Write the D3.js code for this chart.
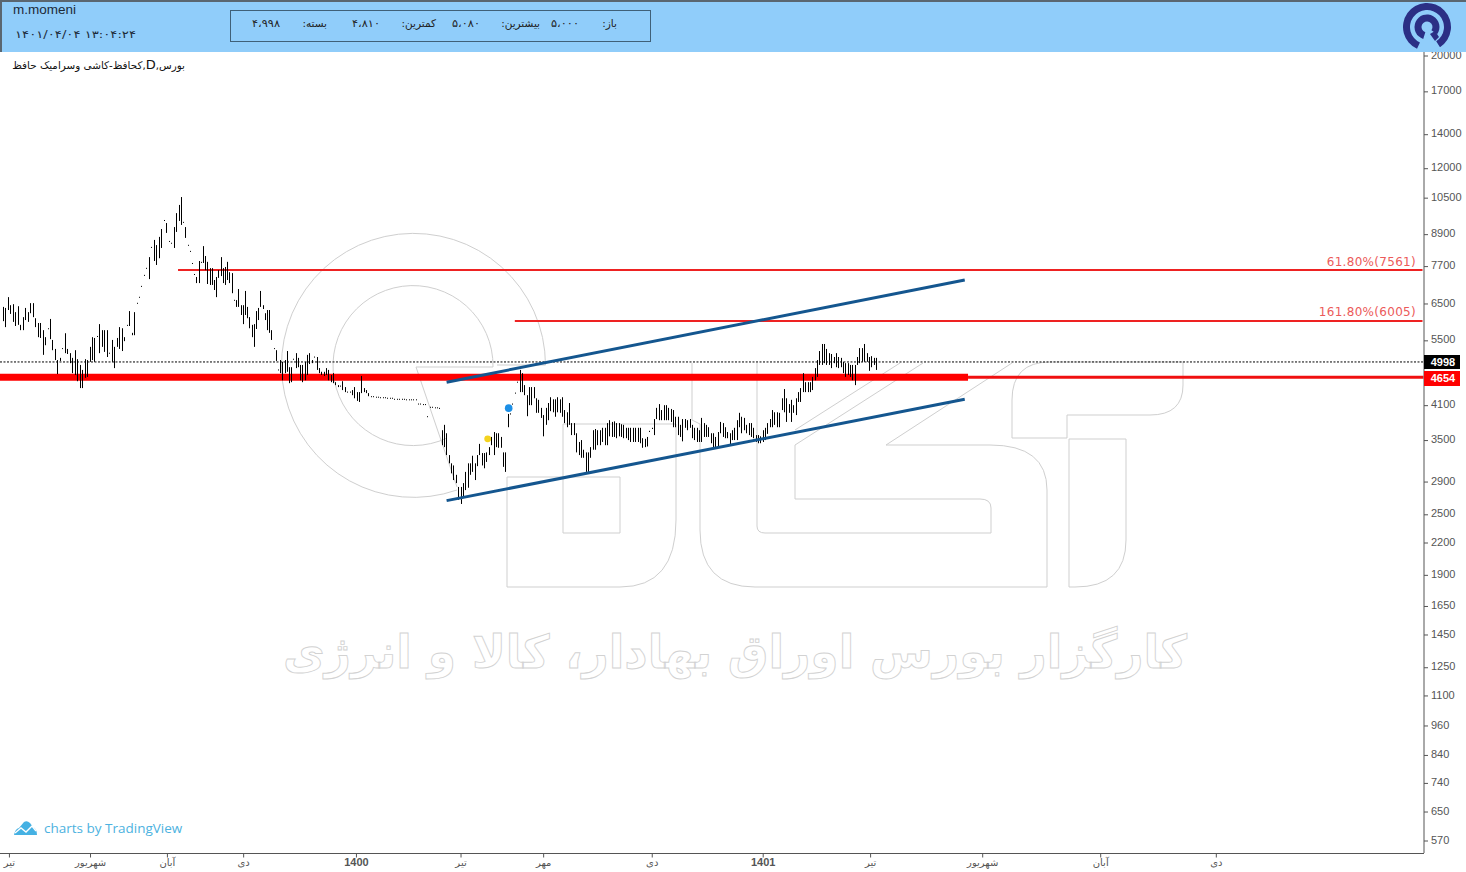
<!DOCTYPE html>
<html lang="fa">
<head>
<meta charset="utf-8">
<title>m.momeni</title>
<script src="https://cdn.jsdelivr.net/npm/d3@7"></script>
<style>
  html, body { margin: 0; padding: 0; background: #fff; overflow: hidden; }
  svg { display: block; }
  text { font-family: "Liberation Sans", "DejaVu Sans", sans-serif; }
</style>
</head>
<body>
<svg id="chart" width="1466" height="872"></svg>
<script>
// Daily highs of the symbol, oldest session first
const highs = [6400,6370,6690,6450,6480,6250,6420,5900,6110,6370,6250,6510,6510,6080,5950,5950,5760,5580,5810,6060,
5510,5290,5030,5080,5310,5680,5290,5190,5080,5260,5050,4920,4810,5050,5030,5340,5580,5560,5610,5920,
5760,5760,5760,5200,5510,5340,5560,5840,5810,5580,5900,6280,5690,6250,6520,6700,7040,7400,7640,8020,
8400,8670,8470,8790,9110,9490,9360,8630,8560,9190,9790,10160,10530,9410,9190,8480,8250,7810,7430,7330,
7880,7850,8430,8060,7850,7630,7630,7230,7330,7560,8020,7630,7670,7850,7490,7460,6610,6600,6940,6450,
6450,6880,6400,6110,5900,5920,6280,6370,6880,6450,6220,6310,6310,5760,5310,5260,4820,5030,4990,5030,
5240,4870,4870,5060,5190,5080,4920,4920,4990,5150,5190,5030,5110,5100,4850,4770,4770,4850,4810,4700,
4740,4550,4490,4480,4570,4450,4360,4360,4390,4450,4350,4350,4680,4430,4390,4330,4270,4270,4260,4260,
4250,4250,4250,4240,4240,4240,4220,4220,4220,4220,4220,4210,4210,4210,4210,4210,4130,4130,4120,4120,
3900,4070,4070,4060,4060,4050,3660,3750,3610,3270,3150,3120,2990,2830,2830,2880,3030,3150,3150,3260,
3150,3270,3440,3300,3300,3310,3390,3550,3630,3610,3610,3550,3310,3310,3940,3950,4130,4340,4560,4810,
4740,4490,4290,4450,4450,4450,4230,4200,4050,3920,4050,4140,4250,4210,4210,4250,4210,4250,4010,3970,
4140,3780,3780,3610,3470,3500,3350,3310,3310,3390,3660,3680,3660,3660,3700,3700,3780,3830,3800,3810,
3780,3780,3760,3750,3700,3700,3700,3700,3700,3700,3700,3530,3520,3550,3650,3700,3850,4050,4120,4010,
4100,4100,4050,4030,4010,3890,3890,3750,3850,3850,3830,3850,3750,3700,3700,3660,3870,3780,3750,3710,
3610,3610,3550,3630,3800,3780,3710,3630,3610,3660,3700,3830,3960,3890,3870,3750,3780,3780,3700,3580,
3580,3560,3660,3700,3780,3850,4010,3970,3970,3960,4230,4410,4230,4120,4200,4100,4230,4350,4430,4740,
4550,4550,4550,4660,4850,5030,5240,5410,5410,5290,5190,5170,5100,5190,5100,5080,4990,4960,4960,4920,
4920,4920,5100,5310,5310,5410,5190,5100,5120,5080,5080];

// Daily lows, same order as the highs
const lows = [6000,5840,6310,6200,5980,5870,5900,5760,5760,6030,5980,6220,6110,5840,5580,5560,5150,5380,5790,5530,
5260,5030,4720,5010,5290,5190,5170,4960,4740,4700,4570,4430,4430,4640,4660,4990,5030,4990,5590,5190,
5340,5220,5100,5180,4990,4850,5340,5290,5240,5480,5880,5870,5630,5630,6500,6680,7020,7380,7620,7260,
8380,7880,7740,7980,8360,9470,8950,8610,8540,8360,8990,9450,9280,9390,8750,8460,8230,7790,7410,7130,
7130,7830,7810,7560,7100,7070,7070,6910,6690,7300,7360,7130,7070,7230,7130,6810,6590,6400,6400,6170,
5920,6170,6080,5810,5580,5340,5790,6030,6400,6340,6030,5760,5690,5510,5290,5010,4800,4740,4590,4740,
4770,4530,4550,5040,4850,4870,4590,4550,4590,4700,4940,4960,5090,4810,4740,4700,4680,4700,4590,4550,
4530,4490,4450,4460,4390,4350,4340,4340,4290,4230,4180,4160,4330,4350,4330,4270,4260,4260,4250,4250,
4240,4240,4240,4230,4230,4230,4210,4210,4210,4210,4210,4200,4200,4200,4200,4200,4120,4120,4110,4110,
3890,4060,4060,4050,4050,4040,3420,3390,3270,3150,3010,2920,2880,2670,2620,2700,2790,2820,2990,3030,
2920,3110,3270,3120,3080,3170,3270,3420,3270,3390,3380,3380,3100,3030,3710,3930,4110,4320,4540,4350,
4350,4290,3900,4100,4100,4230,3960,3960,3870,3560,3750,3830,3990,3970,3890,3970,3960,3890,3780,3710,
3750,3580,3580,3310,3270,3230,3230,3030,3030,3230,3350,3350,3420,3420,3470,3420,3420,3560,3550,3550,
3530,3560,3550,3530,3530,3500,3470,3470,3470,3470,3450,3380,3390,3400,3630,3680,3580,3850,3830,3830,
3830,3830,3830,3800,3710,3710,3580,3550,3480,3700,3660,3700,3530,3500,3470,3470,3470,3550,3550,3550,
3450,3390,3390,3390,3610,3550,3530,3530,3420,3500,3500,3500,3710,3610,3660,3610,3580,3550,3530,3470,
3450,3450,3470,3500,3600,3710,3710,3750,3710,3710,4010,3970,3800,3960,3800,3960,3920,4160,4160,4350,
4350,4350,4350,4390,4590,4660,4920,4920,4960,4920,4920,4850,4960,4870,4850,4870,4740,4660,4700,4660,
4590,4490,4920,4960,4990,4990,4990,4790,4870,4920,4810];

// Price axis ticks and the levels marked on the chart
const priceTicks = [20000,17000,14000,12000,10500,8900,7700,6500,5500,4100,3500,2900,2500,2200,1900,1650,1450,1250,1100,960,840,740,650,570];
const lastClose = 4998;
const supportLevel = 4654;
const fibUpperLevel = 7561;
const fibLowerLevel = 6005;
const fibLabels = ["61.80%(7561)", "161.80%(6005)"];

// Calendar ticks, given as session numbers along the time axis
const timeTickSessions = [2.4,35.2,66.3,100.2,149.7,194,229,275,322,367.5,415,465,514];
const timeTickLabels = ["تیر","شهریور","آبان","دی","1400","تیر","مهر","دی","1401","تیر","شهریور","آبان","دی"];

// Channel and level anchors as session number and price
const channelSessions = [188.1, 407.6];
const channelUpper = [4550, 7230];
const channelLower = [2660, 4210];
const fibStartSessions = [70.8, 217];
const supportEndSession = 409;
const markerSessions = [214.4, 205.5];
const markerPrices = [4045, 3520];

// Quote strip
const quoteLabels = ["باز:", "بیشترین:", "کمترین:", "بسته:"];
const quoteValues = ["۵،۰۰۰", "۵،۰۸۰", "۴،۸۱۰", "۴،۹۹۸"];
const titleParts = ["بورس,", "D", ",کحافظ-کاشی وسرامیک حافظ"];
const brokerText = "کارگزار بورس اوراق بهادار، کالا و انرژی";

const svg = d3.select("#chart");
const plotRight = 1423.5, axisBottom = 853;

// Session spacing varies a little across the history, so the scale has several segments
const x = d3.scaleLinear().domain([0, 72, 126, 370, 602]).range([3, 181, 300, 876, plotRight]);
const y = d3.scaleLog().domain([570, 20000]).range([840.5, 55.5]);

// Watermark: ring emblem, large letterforms and the broker name
const wm = svg.append("g").attr("fill", "none").attr("stroke", "#cfcfcf").attr("stroke-width", 1);
wm.append("path").attr("d", "M457,490 A132,132 0 1 1 545.5,365 L497,365");
wm.append("path").attr("d", "M447,438 A80,80 0 1 1 493,367 L416,367 L457,487");
wm.append("path").attr("d", "M507,477 H620 V533 H563 V424 H676 V520 Q676,587 620,587 H507 Z");
wm.append("path").attr("d", "M692,363 V420 L700,424 V530 Q700,587 755,587 H1047 V490 Q1047,445 990,445 H886 L1012,363");
wm.append("path").attr("d", "M757,363 V526 Q757,533 765,533 H991 V508 Q991,499 980,499 H795 V445 L923,363");
wm.append("path").attr("d", "M795,430 L900,363");
wm.append("path").attr("d", "M1012,438 V400 Q1012,362 1050,362 H1183 V385 Q1183,415 1150,415 H1067 V438 Z");
wm.append("path").attr("d", "M1069,439 H1126 V540 Q1126,587 1075,587 H1069 Z");
wm.append("text")
  .attr("x", 735).attr("y", 668)
  .attr("text-anchor", "middle")
  .attr("textLength", 904).attr("lengthAdjust", "spacingAndGlyphs")
  .attr("direction", "rtl")
  .style("font-family", "'DejaVu Sans'").style("font-size", "46px").style("font-weight", "bold")
  .attr("fill", "#fff").attr("stroke", "#d2d2d2").attr("stroke-width", 0.9)
  .text(brokerText);

// Levels that sit behind the price bars
svg.append("line")
  .attr("x1", 0).attr("x2", plotRight)
  .attr("y1", y(lastClose) + 0.5).attr("y2", y(lastClose) + 0.5)
  .attr("stroke", "#000").attr("stroke-dasharray", "2,1.5").attr("stroke-width", 1);

svg.append("line")
  .attr("x1", 0).attr("x2", x(supportEndSession))
  .attr("y1", y(supportLevel)).attr("y2", y(supportLevel))
  .attr("stroke", "#ff0000").attr("stroke-width", 7);
svg.append("line")
  .attr("x1", x(supportEndSession)).attr("x2", plotRight)
  .attr("y1", y(supportLevel)).attr("y2", y(supportLevel))
  .attr("stroke", "#f01010").attr("stroke-width", 3);

[fibUpperLevel, fibLowerLevel].forEach((level, i) => {
  svg.append("line")
    .attr("x1", x(fibStartSessions[i])).attr("x2", plotRight - 1)
    .attr("y1", y(level)).attr("y2", y(level))
    .attr("stroke", "#ee2222").attr("stroke-width", 2);
  svg.append("text")
    .attr("x", 1416).attr("y", y(level) - 4.5)
    .attr("text-anchor", "end")
    .attr("fill", "#ec5a5a")
    .style("font-family", "'DejaVu Sans'").style("font-size", "12px").style("letter-spacing", "0.3px")
    .text(fibLabels[i]);
});

// Price bars
svg.append("g").selectAll("rect")
  .data(d3.range(highs.length))
  .join("rect")
  .attr("x", i => Math.round(x(i)))
  .attr("width", 1)
  .attr("y", i => y(highs[i]))
  .attr("height", i => Math.max(1, y(lows[i]) - y(highs[i])))
  .attr("fill", "#000");

// Rising channel
const channelLine = d3.line().x((d, i) => x(channelSessions[i])).y(d => y(d));
[channelUpper, channelLower].forEach(series => {
  svg.append("path")
    .attr("d", channelLine(series))
    .attr("fill", "none")
    .attr("stroke", "#14568f")
    .attr("stroke-width", 3);
});

// Signal markers
const markerColors = ["#1c8fe6", "#f4d31f"];
const markerSizes = [3.8, 3.4];
svg.append("g").selectAll("circle")
  .data(markerSessions)
  .join("circle")
  .attr("cx", d => x(d))
  .attr("cy", (d, i) => y(markerPrices[i]))
  .attr("r", (d, i) => markerSizes[i])
  .attr("fill", (d, i) => markerColors[i]);

// Price axis
const yAxis = svg.append("g")
  .attr("transform", `translate(${plotRight + 0.5},0)`)
  .call(d3.axisRight(y).tickValues(priceTicks).tickFormat(d3.format("d")).tickSize(4).tickPadding(3));
yAxis.select(".domain").attr("stroke", "#555").attr("d", `M0,52V${axisBottom}`);
yAxis.selectAll(".tick line").attr("stroke", "#555");
yAxis.selectAll("text").attr("fill", "#555").attr("dy", "0.24em").style("font-size", "11px").style("font-family", "'Liberation Sans'");

// Time axis
const xAxis = svg.append("g")
  .attr("transform", `translate(0,${axisBottom + 0.5})`)
  .call(d3.axisBottom(x).tickValues(timeTickSessions)
    .tickFormat((d, i) => timeTickLabels[i]).tickSize(4).tickPadding(1));
xAxis.select(".domain").attr("stroke", "#555").attr("d", `M0,0H${plotRight + 0.5}`);
xAxis.selectAll(".tick line").attr("stroke", "#555");
xAxis.selectAll("text")
  .attr("fill", "#555")
  .style("font-size", (d, i) => /^\d/.test(timeTickLabels[i]) ? "11px" : "10px")
  .style("font-weight", (d, i) => /^\d/.test(timeTickLabels[i]) ? "bold" : "normal");

// Value tags on the price axis
[[lastClose, "#000", 355, 14], [supportLevel, "#ff0000", 371, 15]].forEach(([value, colour, top, h]) => {
  svg.append("rect").attr("x", 1424).attr("y", top).attr("width", 36).attr("height", h).attr("fill", colour);
  svg.append("text")
    .attr("x", 1443).attr("y", top + h / 2 + 3.8)
    .attr("text-anchor", "middle").attr("fill", "#fff")
    .style("font-size", "11px").style("font-weight", "bold")
    .text(value);
});

// Header band with user, timestamp and quote strip
svg.append("rect").attr("x", 0).attr("y", 0).attr("width", 1466).attr("height", 52).attr("fill", "#90cdfa");
svg.append("path").attr("d", "M1,52V1H1466").attr("fill", "none").attr("stroke", "#5a6670").attr("stroke-width", 2);
svg.append("text").attr("x", 13).attr("y", 14).attr("fill", "#1c2a38").style("font-size", "13.5px").text("m.momeni");
svg.append("text").attr("x", 15).attr("y", 38)
  .attr("textLength", 121).attr("lengthAdjust", "spacingAndGlyphs")
  .attr("fill", "#1c2a38").style("font-family", "'DejaVu Sans'").style("font-size", "10.5px")
  .text("۱۴۰۱/۰۴/۰۴ ۱۳:۰۴:۲۴");
svg.append("rect").attr("x", 230.5).attr("y", 10.5).attr("width", 420).attr("height", 31)
  .attr("fill", "none").attr("stroke", "#3f6078");

const quoteText = (str, right, rtl) => {
  const t = svg.append("text")
    .attr("x", right).attr("y", 27)
    .attr("direction", rtl ? "rtl" : "ltr")
    .attr("text-anchor", rtl ? "start" : "end")
    .attr("fill", "#222")
    .style("font-family", "'DejaVu Sans'").style("font-size", "10.5px")
    .text(str);
  if (!rtl) t.attr("textLength", 28).attr("lengthAdjust", "spacingAndGlyphs");
};
[617, 540, 436, 327].forEach((r, i) => quoteText(quoteLabels[i], r, true));
[579, 480, 380, 280].forEach((r, i) => quoteText(quoteValues[i], r, false));

// Broker emblem
const emblem = svg.append("g").attr("transform", "translate(1427,27)").attr("fill", "#2b2f85");
const ring = d3.arc();
emblem.append("path").attr("d", ring({ innerRadius: 17, outerRadius: 24, startAngle: 3.57, endAngle: 2 * Math.PI + 2.57 }));
emblem.append("path").attr("d", ring({ innerRadius: 5.5, outerRadius: 12.5, startAngle: 3.45, endAngle: 2 * Math.PI + 2.2 }));
emblem.append("path").attr("d", "M3,7 L8,14 L12,10 L8,4 Z");

// Symbol title
svg.append("text")
  .attr("x", 185).attr("y", 69)
  .attr("direction", "rtl")
  .attr("fill", "#111")
  .style("font-family", "'DejaVu Sans'").style("font-size", "10.4px")
  .selectAll("tspan")
  .data(titleParts)
  .join("tspan")
  .style("font-size", d => d === "D" ? "13px" : null)
  .text(d => d);

// Attribution
svg.append("path")
  .attr("d", "M14,835 Q15,829 19,828 L24,822 Q27,820 30,823 L33,827 Q37,829 37,835 Z")
  .attr("fill", "#45b1e3");
svg.append("path")
  .attr("d", "M15,833 L21,828 L26,832 L32,826 L36,831")
  .attr("fill", "none").attr("stroke", "#fff").attr("stroke-width", 1.4);
svg.append("text")
  .attr("x", 44).attr("y", 833)
  .attr("fill", "#4db2e0")
  .style("font-family", "'Open Sans'").style("font-size", "13.5px")
  .text("charts by TradingView");
</script>
</body>
</html>
